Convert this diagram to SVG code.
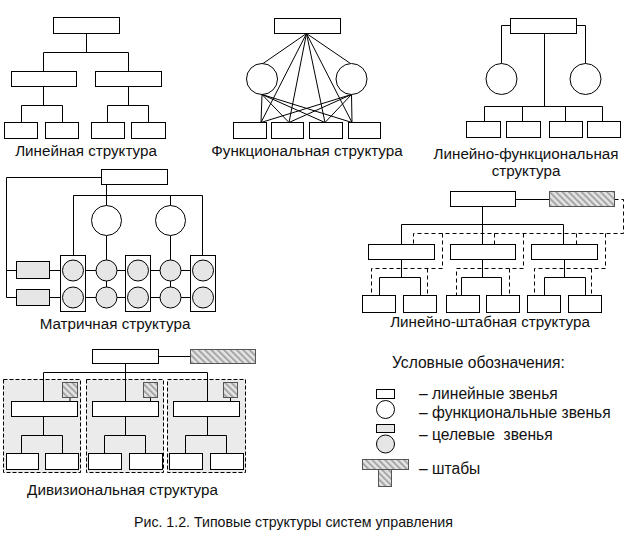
<svg xmlns="http://www.w3.org/2000/svg" width="631" height="535" viewBox="0 0 631 535">
<defs>
<pattern id="hatch" width="4.5" height="4.5" patternUnits="userSpaceOnUse" patternTransform="rotate(-45)">
<rect width="4.5" height="4.5" fill="#e4e4e4"/>
<rect width="2" height="4.5" fill="#a6a6a6"/>
</pattern>
<style>
.b{fill:#fff;stroke:#000;stroke-width:1}
.g{fill:#e6e6e6;stroke:#000;stroke-width:1}
.h{fill:url(#hatch);stroke:#555;stroke-width:1}
.r{fill:#ebebeb;stroke:#000;stroke-width:1;stroke-dasharray:4,2}
.l{fill:none;stroke:#000;stroke-width:1}
.d{fill:none;stroke:#000;stroke-width:1;stroke-dasharray:4,3}
text{font-family:"Liberation Sans",Arial,sans-serif;font-size:15.2px;fill:#111}
.c{text-anchor:middle}
.leg{font-size:15.6px}
.cap{font-size:14.2px}
</style>
</defs>
<rect width="631" height="535" fill="#fff"/>

<!-- background regions (divisional) -->
<g id="div-regions">
<rect class="r" x="3.5" y="379.5" width="77" height="93"/>
<rect class="r" x="86.5" y="379.5" width="77" height="93"/>
<rect class="r" x="167.5" y="379.5" width="78" height="93"/>
</g>

<g id="connectors">
<!-- linear -->
<path class="l" d="M86.5 33.5V52.5M43.5 71.5V52.5H128.5V71.5M43.5 86.5V105.5M21.5 122.5V105.5H62.5V122.5M128.5 86.5V105.5M107.5 122.5V105.5H148.5V122.5"/>
<!-- functional -->
<path class="l" d="M306.5 33.5L263 63.5M306.5 33.5L350.5 63.5M306.5 33.5L261 122.5M306.5 33.5L289 122.5M306.5 33.5L325 122.5M306.5 33.5L352 122.5"/>
<path class="l" d="M262 94.5L261 122.5M262 94.5L289 122.5M262 94.5L325 122.5M262 94.5L352 122.5M351.5 94.5L261 122.5M351.5 94.5L289 122.5M351.5 94.5L325 122.5M351.5 94.5L352 122.5"/>
<!-- linear-functional -->
<path class="l" d="M510.5 25.5H501.5V63.5M576.5 25.5H585.5V63.5M544.5 33.5V106.5M484.5 121.5V106.5H602.5V121.5M522.5 106.5V121.5M565.5 106.5V121.5"/>
<!-- matrix -->
<path class="l" d="M101.5 177.5H6.5V297.5M6.5 270.5H16.5M6.5 297.5H16.5M106.5 184.5V195.5M73.5 255.5V195.5H202.5V255.5M106.5 195.5V205.5M170.5 195.5V205.5M106.5 235.5V260M170.5 235.5V260M49.5 270.5H203M49.5 297.5H203M106.5 281V287M170.5 281V287"/>
<!-- line-staff -->
<path class="l" d="M515.5 199.5H549.5M482.5 206.5V244.5M401.5 244.5V224.5H563.5V244.5M401.5 259.5V277.5M379.5 295.5V277.5H420.5V295.5M482.5 259.5V277.5M461.5 295.5V277.5H501.5V295.5M564.5 259.5V277.5M544.5 295.5V277.5H585.5V295.5"/>
<path class="d" d="M614.5 199.5H623.5V233.5H413.5V244.5M494.5 233.5V244.5M576.5 233.5V244.5M442.5 233.5V268.5H371.5V295.5M427.5 268.5V295.5M523.5 233.5V268.5H456.5V295.5M509.5 268.5V295.5M605.5 233.5V268.5H534.5V295.5M591.5 268.5V295.5"/>
<!-- divisional -->
<path class="l" d="M158.5 356.5H190.5M125.5 363.5V401.5M43.5 401.5V372.5H207.5V401.5M70 397.5V401.5M150.5 397.5V401.5M230.5 397.5V401.5M43.5 416.5V435.5M21.5 453.5V435.5H62.5V453.5M125.5 416.5V435.5M104.5 453.5V435.5H145.5V453.5M207.5 416.5V435.5M185.5 453.5V435.5H226.5V453.5"/>
</g>

<!-- linear structure -->
<g id="lin-top"><rect class="b" x="53.5" y="17.5" width="66" height="16"/></g>
<g id="lin-m1"><rect class="b" x="11.5" y="71.5" width="65" height="15"/></g>
<g id="lin-m2"><rect class="b" x="95.5" y="71.5" width="66" height="15"/></g>
<g id="lin-l1"><rect class="b" x="4.5" y="122.5" width="33" height="16"/></g>
<g id="lin-l2"><rect class="b" x="45.5" y="122.5" width="33" height="16"/></g>
<g id="lin-l3"><rect class="b" x="91.5" y="122.5" width="33" height="16"/></g>
<g id="lin-l4"><rect class="b" x="131.5" y="122.5" width="34" height="16"/></g>
<text class="c" x="86" y="156">Линейная структура</text>

<!-- functional structure -->
<g id="fun-top"><rect class="b" x="274.5" y="18.5" width="66" height="15"/></g>
<g id="fun-c1"><circle class="b" cx="262" cy="79" r="15.5"/></g>
<g id="fun-c2"><circle class="b" cx="351.5" cy="79" r="15.5"/></g>
<g id="fun-l1"><rect class="b" x="233.5" y="122.5" width="33" height="16"/></g>
<g id="fun-l2"><rect class="b" x="271.5" y="122.5" width="32" height="16"/></g>
<g id="fun-l3"><rect class="b" x="309.5" y="122.5" width="33" height="16"/></g>
<g id="fun-l4"><rect class="b" x="348.5" y="122.5" width="32" height="16"/></g>
<text class="c" x="307" y="156">Функциональная структура</text>

<!-- linear-functional structure -->
<g id="lf-top"><rect class="b" x="510.5" y="18.5" width="66" height="15"/></g>
<g id="lf-c1"><circle class="b" cx="501.5" cy="79" r="15.5"/></g>
<g id="lf-c2"><circle class="b" cx="585.5" cy="79" r="15.5"/></g>
<g id="lf-l1"><rect class="b" x="466.5" y="121.5" width="34" height="16"/></g>
<g id="lf-l2"><rect class="b" x="506.5" y="121.5" width="34" height="16"/></g>
<g id="lf-l3"><rect class="b" x="549.5" y="121.5" width="33" height="16"/></g>
<g id="lf-l4"><rect class="b" x="587.5" y="121.5" width="33" height="16"/></g>
<text class="c" x="526" y="159">Линейно-функциональная</text>
<text class="c" x="526" y="176">структура</text>

<!-- matrix structure -->
<g id="mx-top"><rect class="b" x="101.5" y="169.5" width="66" height="15"/></g>
<g id="mx-g1"><rect class="g" x="16.5" y="261.5" width="33" height="17"/></g>
<g id="mx-g2"><rect class="g" x="16.5" y="289.5" width="33" height="16"/></g>
<g id="mx-c1"><circle class="b" cx="106.5" cy="220.5" r="15"/></g>
<g id="mx-c2"><circle class="b" cx="170.5" cy="220.5" r="15"/></g>
<g id="mx-e1"><rect class="b" x="60.5" y="255.5" width="25" height="56"/><circle class="g" cx="73" cy="270.5" r="10.5"/><circle class="g" cx="73" cy="297.5" r="10.5"/></g>
<g id="mx-k1"><circle class="g" cx="106.5" cy="270.5" r="10.5"/><circle class="g" cx="106.5" cy="297.5" r="10.5"/></g>
<g id="mx-e2"><rect class="b" x="125.5" y="255.5" width="25" height="56"/><circle class="g" cx="138" cy="270.5" r="10.5"/><circle class="g" cx="138" cy="297.5" r="10.5"/></g>
<g id="mx-k2"><circle class="g" cx="170.5" cy="270.5" r="10.5"/><circle class="g" cx="170.5" cy="297.5" r="10.5"/></g>
<g id="mx-e3"><rect class="b" x="190.5" y="255.5" width="25" height="56"/><circle class="g" cx="203" cy="270.5" r="10.5"/><circle class="g" cx="203" cy="297.5" r="10.5"/></g>
<text class="c" x="115" y="329">Матричная структура</text>

<!-- line-staff structure -->
<g id="ls-top"><rect class="b" x="450.5" y="191.5" width="65" height="15"/></g>
<g id="ls-staff"><rect class="h" x="549.5" y="191.5" width="65" height="15"/></g>
<g id="ls-m1"><rect class="b" x="368.5" y="244.5" width="66" height="15"/></g>
<g id="ls-m2"><rect class="b" x="450.5" y="244.5" width="65" height="15"/></g>
<g id="ls-m3"><rect class="b" x="531.5" y="244.5" width="66" height="15"/></g>
<g id="ls-l1"><rect class="b" x="362.5" y="295.5" width="33" height="17"/></g>
<g id="ls-l2"><rect class="b" x="403.5" y="295.5" width="33" height="17"/></g>
<g id="ls-l3"><rect class="b" x="446.5" y="295.5" width="33" height="17"/></g>
<g id="ls-l4"><rect class="b" x="486.5" y="295.5" width="33" height="17"/></g>
<g id="ls-l5"><rect class="b" x="527.5" y="295.5" width="33" height="17"/></g>
<g id="ls-l6"><rect class="b" x="568.5" y="295.5" width="33" height="17"/></g>
<text class="c" x="490" y="327">Линейно-штабная структура</text>

<!-- divisional structure -->
<g id="dv-top"><rect class="b" x="92.5" y="349.5" width="66" height="14"/></g>
<g id="dv-staff"><rect class="h" x="190.5" y="349.5" width="65" height="14"/></g>
<g id="dv-s1"><rect class="h" x="62.5" y="382.5" width="15" height="15"/></g>
<g id="dv-s2"><rect class="h" x="143.5" y="382.5" width="14" height="15"/></g>
<g id="dv-s3"><rect class="h" x="223.5" y="382.5" width="14" height="15"/></g>
<g id="dv-m1"><rect class="b" x="11.5" y="401.5" width="66" height="15"/></g>
<g id="dv-m2"><rect class="b" x="92.5" y="401.5" width="66" height="15"/></g>
<g id="dv-m3"><rect class="b" x="173.5" y="401.5" width="66" height="15"/></g>
<g id="dv-l1"><rect class="b" x="6.5" y="453.5" width="32" height="16"/></g>
<g id="dv-l2"><rect class="b" x="45.5" y="453.5" width="33" height="16"/></g>
<g id="dv-l3"><rect class="b" x="88.5" y="453.5" width="33" height="16"/></g>
<g id="dv-l4"><rect class="b" x="129.5" y="453.5" width="33" height="16"/></g>
<g id="dv-l5"><rect class="b" x="169.5" y="453.5" width="33" height="16"/></g>
<g id="dv-l6"><rect class="b" x="210.5" y="453.5" width="33" height="16"/></g>
<text class="c" x="122.5" y="495">Дивизиональная структура</text>

<!-- legend -->
<g id="legend">
<text class="leg" x="392" y="368">Условные обозначения:</text>
<rect class="b" x="376.5" y="389.5" width="18" height="9"/>
<circle class="b" cx="385.5" cy="409.5" r="9"/>
<rect class="g" x="376.5" y="424.5" width="18" height="8"/>
<circle class="g" cx="385.5" cy="444" r="9"/>
<rect class="h" x="362.5" y="459.5" width="46" height="10"/>
<rect class="h" x="378.5" y="469.5" width="13" height="17"/>
<text class="leg" x="419" y="399">– линейные звенья</text>
<text class="leg" x="419" y="418">– функциональные звенья</text>
<text class="leg" x="419" y="440" xml:space="preserve">– целевые  звенья</text>
<text class="leg" x="419" y="474">– штабы</text>
</g>

<text class="cap" x="134" y="527">Рис. 1.2. Типовые структуры систем управления</text>
</svg>
